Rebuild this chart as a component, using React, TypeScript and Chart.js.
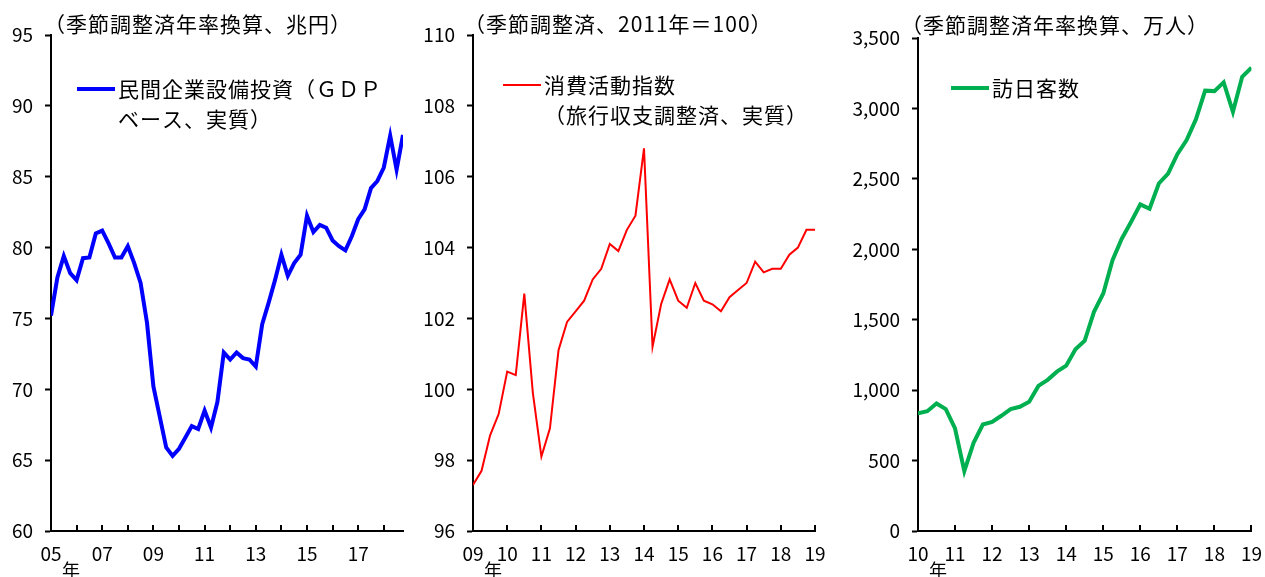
import React, { useEffect, useRef } from "react";
import { Chart, registerables } from "chart.js";

Chart.register(...registerables);

// Quarterly series (first value = Q1 of the start year)
const capexStartYear = 2005;
const capexValues = [
  75.2, 77.9, 79.4, 78.2, 77.7, 79.25, 79.3, 81.0, 81.2, 80.3, 79.3, 79.3, 80.1, 78.9,
  77.5, 74.7, 70.2, 68.05, 65.9, 65.3, 65.8, 66.6, 67.4, 67.2, 68.5, 67.3, 69.1, 72.6,
  72.1, 72.6, 72.2, 72.1, 71.6, 74.6, 76.1, 77.7, 79.5, 78.0, 78.9, 79.5, 82.25, 81.1,
  81.6, 81.4, 80.5, 80.1, 79.8, 80.8, 82.0, 82.7, 84.2, 84.7, 85.65, 87.9, 85.5, 87.95,
];
const capexYearLabels = ["05", "", "07", "", "09", "", "11", "", "13", "", "15", "", "17", ""];

const consumptionStartYear = 2009;
const consumptionValues = [
  97.3, 97.7, 98.7, 99.3, 100.5, 100.4, 102.7, 99.9, 98.1, 98.9, 101.1, 101.9, 102.2, 102.5,
  103.1, 103.4, 104.1, 103.9, 104.5, 104.9, 106.8, 101.2, 102.4, 103.1, 102.5, 102.3, 103.0,
  102.5, 102.4, 102.2, 102.6, 102.8, 103.0, 103.6, 103.3, 103.4, 103.4, 103.8, 104.0, 104.5,
  104.5,
];
const consumptionYearLabels = ["09", "10", "11", "12", "13", "14", "15", "16", "17", "18", "19"];

const visitorStartYear = 2010;
const visitorValues = [
  835, 850, 905, 865, 728, 425, 626, 756, 775, 818, 865, 882, 917, 1030, 1073, 1131, 1174,
  1290, 1351, 1556, 1686, 1922, 2075, 2194, 2319, 2288, 2467, 2538, 2675, 2775, 2922, 3126,
  3123, 3185, 2976, 3225, 3289,
];
const visitorYearLabels = ["10", "11", "12", "13", "14", "15", "16", "17", "18", "19"];

const FONT = '"Noto Sans CJK JP", "Noto Sans", sans-serif';

type Panel = {
  left: number;
  width: number;
  plotLeft: number;
  plotRight: number;
  plotTop: number;
  startYear: number;
  endX: number;
  values: number[];
  yearLabels: string[];
  color: string;
  lineWidth: number;
  yMin: number;
  yMax: number;
  yStep: number;
  yFormat: (v: number) => string;
  note: string;
  noteX: number;
  noteY: number;
  legendLines: string[];
  legendLineX: number;
  legendY: number;
  legendTextX: number;
};

const panels: Panel[] = [
  {
    left: 0,
    width: 420,
    plotLeft: 51,
    plotRight: 403,
    plotTop: 35,
    startYear: capexStartYear,
    endX: capexStartYear + (capexValues.length - 1) / 4,
    values: capexValues,
    yearLabels: capexYearLabels,
    color: "#0000FF",
    lineWidth: 4,
    yMin: 60,
    yMax: 95,
    yStep: 5,
    yFormat: (v) => String(v),
    note: "（季節調整済年率換算、兆円）",
    noteX: 44,
    noteY: 24,
    legendLines: ["民間企業設備投資（ＧＤＰ", "ベース、実質）"],
    legendLineX: 77,
    legendY: 89,
    legendTextX: 118,
  },
  {
    left: 420,
    width: 425,
    plotLeft: 53,
    plotRight: 395,
    plotTop: 35,
    startYear: consumptionStartYear,
    endX: consumptionStartYear + (consumptionValues.length - 1) / 4,
    values: consumptionValues,
    yearLabels: consumptionYearLabels,
    color: "#FF0000",
    lineWidth: 2,
    yMin: 96,
    yMax: 110,
    yStep: 2,
    yFormat: (v) => String(v),
    note: "（季節調整済、2011年＝100）",
    noteX: 44,
    noteY: 24,
    legendLines: ["消費活動指数", "（旅行収支調整済、実質）"],
    legendLineX: 83,
    legendY: 85,
    legendTextX: 124,
  },
  {
    left: 845,
    width: 420,
    plotLeft: 73,
    plotRight: 409,
    plotTop: 38,
    startYear: visitorStartYear,
    endX: visitorStartYear + (visitorValues.length - 1) / 4,
    values: visitorValues,
    yearLabels: visitorYearLabels,
    color: "#00B050",
    lineWidth: 4,
    yMin: 0,
    yMax: 3500,
    yStep: 500,
    yFormat: (v) => v.toLocaleString("en-US"),
    note: "（季節調整済年率換算、万人）",
    noteX: 56,
    noteY: 25,
    legendLines: ["訪日客数"],
    legendLineX: 106,
    legendY: 88,
    legendTextX: 147,
  },
];

// Inward year ticks, unit note, in-plot legend and the 年 marker
const decorPlugin = {
  id: "panelDecor",
  afterDraw(chart: any, _args: any, opts: any) {
    const { ctx, chartArea, scales } = chart;
    const xs = scales.x;
    const p: Panel = opts.panel;
    ctx.save();
    ctx.strokeStyle = "#000";
    ctx.lineWidth = 2;
    xs.ticks.forEach((t: any) => {
      const px = Math.round(xs.getPixelForValue(t.value));
      ctx.beginPath();
      ctx.moveTo(px, chartArea.bottom);
      ctx.lineTo(px, chartArea.bottom - 6);
      ctx.stroke();
    });

    ctx.fillStyle = "#000";
    ctx.textBaseline = "middle";
    ctx.textAlign = "left";
    ctx.font = `21px ${FONT}`;
    (ctx as any).letterSpacing = "1px";
    ctx.fillText(p.note, p.noteX, p.noteY);

    // legend sample line
    ctx.strokeStyle = p.color;
    ctx.lineWidth = p.lineWidth;
    ctx.beginPath();
    ctx.moveTo(p.legendLineX, p.legendY);
    ctx.lineTo(p.legendLineX + 38, p.legendY);
    ctx.stroke();
    p.legendLines.forEach((line, i) => {
      ctx.fillText(line, p.legendTextX, p.legendY + i * 30);
    });

    (ctx as any).letterSpacing = "0px";
    ctx.font = `18px ${FONT}`;
    ctx.textAlign = "center";
    ctx.fillText("年", chartArea.left + 20, 570);
    ctx.restore();
  },
};

function PanelChart({ panel }: { panel: Panel }) {
  const ref = useRef<HTMLCanvasElement | null>(null);
  useEffect(() => {
    if (!ref.current) return;
    const tickFont = { family: FONT, size: 19 };
    const chart = new Chart(ref.current, {
      type: "line",
      data: {
        datasets: [
          {
            data: panel.values.map((v, i) => ({ x: panel.startYear + i / 4, y: v })),
            borderColor: panel.color,
            borderWidth: panel.lineWidth,
            pointRadius: 0,
            tension: 0,
            fill: false,
          },
        ],
      },
      options: {
        responsive: false,
        animation: false,
        devicePixelRatio: 1,
        layout: {
          padding: { top: panel.plotTop, right: panel.width - panel.plotRight, left: 0, bottom: 0 },
        },
        plugins: {
          legend: { display: false },
          tooltip: { enabled: false },
          panelDecor: { panel },
        } as any,
        scales: {
          x: {
            type: "linear",
            min: panel.startYear,
            max: panel.endX,
            afterFit: (s: any) => {
              s.height = 46;
            },
            grid: { display: false },
            border: { display: true, color: "#000", width: 2 },
            ticks: {
              stepSize: 1,
              includeBounds: false,
              autoSkip: false,
              maxRotation: 0,
              padding: 3,
              color: "#000",
              font: tickFont,
              callback: (v: any) => panel.yearLabels[Math.round(Number(v) - panel.startYear)] ?? "",
            },
          },
          y: {
            type: "linear",
            min: panel.yMin,
            max: panel.yMax,
            afterFit: (s: any) => {
              s.width = panel.plotLeft;
            },
            grid: {
              drawOnChartArea: false,
              drawTicks: true,
              tickLength: 6,
              tickWidth: 2,
              tickColor: "#000",
            },
            border: { display: true, color: "#000", width: 2 },
            ticks: {
              stepSize: panel.yStep,
              padding: 12,
              color: "#000",
              font: tickFont,
              callback: (v: any) => panel.yFormat(Number(v)),
            },
          },
        },
      } as any,
      plugins: [decorPlugin],
    });
    return () => chart.destroy();
  }, [panel]);
  return (
    <canvas
      ref={ref}
      width={panel.width}
      height={577}
      style={{ position: "absolute", left: panel.left, top: 0, width: panel.width, height: 577 }}
    />
  );
}

export default function App() {
  return (
    <div
      style={{
        position: "fixed",
        left: 0,
        top: 0,
        width: 1265,
        height: 577,
        background: "#fff",
        overflow: "hidden",
      }}
    >
      {panels.map((p, i) => (
        <PanelChart key={i} panel={p} />
      ))}
    </div>
  );
}
